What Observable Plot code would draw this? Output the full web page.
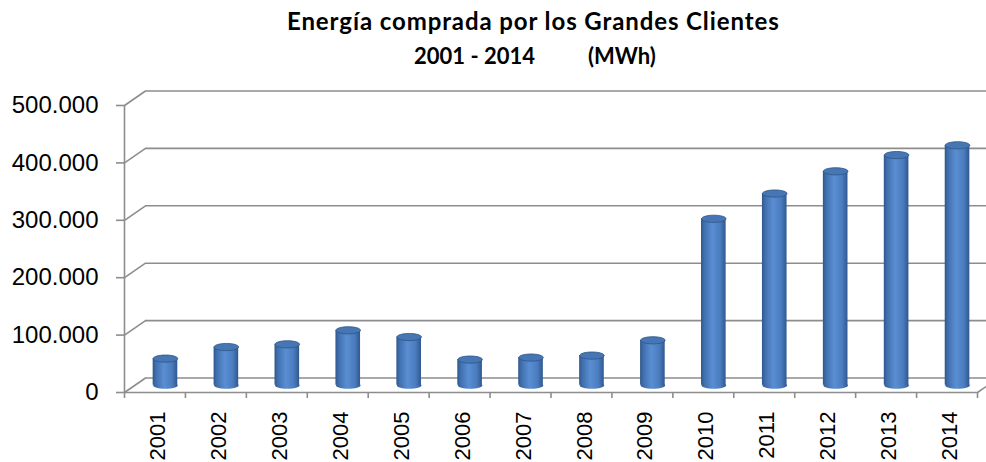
<!DOCTYPE html>
<html>
<head>
<meta charset="utf-8">
<script src="https://cdn.jsdelivr.net/npm/d3@7"></script>
<script src="https://cdn.jsdelivr.net/npm/@observablehq/plot@0.6"></script>
<style>
  html, body { margin: 0; padding: 0; background: #fff; }
  #wrap { position: relative; width: 986px; height: 462px; overflow: hidden; background: #fff; }
  .t { position: absolute; font-family: Lato, "Liberation Sans", sans-serif; font-weight: 700; color: #000; white-space: pre; }
  #title1 { top: 9px; left: 287px; font-size: 24px; line-height: 24px; letter-spacing: 0.9px; }
  #title2 { top: 45px; left: 414px; font-size: 22px; line-height: 22px; }
  #chart { position: absolute; left: 0; top: 75px; }
</style>
</head>
<body>
<div id="wrap">
  <div class="t" id="title1">Energía comprada por los Grandes Clientes</div>
  <div class="t" id="title2">2001 - 2014<span style="margin-left:53px">(MWh)</span></div>
  <div id="chart"></div>
</div>
<script>
// ---- data ----
const years = ["2001","2002","2003","2004","2005","2006","2007","2008","2009","2010","2011","2012","2013","2014"];
const values = [46400, 66600, 71300, 95700, 84000, 44700, 48200, 51700, 78300, 290000, 334000, 372700, 401000, 418000];
const yTicks = [0, 100000, 200000, 300000, 400000, 500000];

// ---- 3D look (pixel styling) ----
const DEPTH_DX = 21, DEPTH_DY = -14.5;          // back wall offset in px
const BAR_DX = DEPTH_DX / 2, BAR_DY = DEPTH_DY / 2;
const GRID = "#8d8d8d";

const rows = years.map((y, i) => ({year: y, i, value: values[i]}));
const fmt = d => d3.format(",")(d).replace(/,/g, ".");

const ellipse = {
  draw(ctx) {
    const rx = 12.3, ry = 3.6, k = 0.5523;
    ctx.moveTo(rx, 0);
    ctx.bezierCurveTo(rx, ry * k, rx * k, ry, 0, ry);
    ctx.bezierCurveTo(-rx * k, ry, -rx, ry * k, -rx, 0);
    ctx.bezierCurveTo(-rx, -ry * k, -rx * k, -ry, 0, -ry);
    ctx.bezierCurveTo(rx * k, -ry, rx, -ry * k, rx, 0);
    ctx.closePath();
  }
};

const W = 986, H = 387, ML = 124, MR = 9, MT = 30, MB = 70;
// depth expressed in data units, for the side-wall diagonals
const unitX = (W - ML - MR) / years.length;
const unitY = (H - MT - MB) / 500000;
const depthX = DEPTH_DX / unitX;
const depthY = -DEPTH_DY / unitY;

const plot = Plot.plot({
  width: W, height: H,
  marginLeft: ML, marginRight: MR, marginTop: MT, marginBottom: MB,
  style: {fontFamily: "'Liberation Sans', Arial, sans-serif", fontSize: "23px", color: "#000", background: "transparent", overflow: "visible"},
  x: {type: "linear", domain: [0, years.length], axis: null},
  y: {domain: [0, 500000], axis: null},
  marks: [
    // back wall gridlines
    Plot.ruleY(yTicks, {dx: DEPTH_DX, dy: DEPTH_DY, stroke: GRID, strokeWidth: 1.6}),
    // left side-wall diagonals
    Plot.link(yTicks, {x1: 0, x2: depthX, y1: d => d, y2: d => d + depthY, stroke: GRID, strokeWidth: 1.6}),
    // right floor diagonal
    Plot.link([0], {x1: years.length, x2: years.length + depthX, y1: 0, y2: depthY, stroke: GRID, strokeWidth: 1.6}),
    // front axes
    Plot.ruleY([0], {stroke: GRID, strokeWidth: 1.6}),
    Plot.ruleX([0], {y1: 0, y2: 500000, stroke: GRID, strokeWidth: 1.6}),
    Plot.axisY(yTicks, {anchor: "left", label: null, tickSize: 8, tickPadding: 18, stroke: GRID, strokeWidth: 1.6, fill: "#000", fontSize: 24, tickFormat: fmt}),
    Plot.axisX(d3.range(years.length + 1), {anchor: "bottom", label: null, tickSize: 6, stroke: GRID, strokeWidth: 1.6, tickFormat: () => ""}),
    Plot.axisX(rows.map(d => d.i + 0.5), {anchor: "bottom", label: null, tickSize: 0, tickPadding: 19, tickRotate: -90, dx: 3, fill: "#000", fontSize: 22, tickFormat: v => years[Math.floor(v)]}),
    // cylinders
    Plot.dot(rows, {x: d => d.i + 0.5, y: 0, dx: BAR_DX, dy: BAR_DY, symbol: ellipse, r: 5, fill: "url(#cyl)", stroke: "none"}),
    Plot.rectY(rows, {x1: d => d.i + 0.298, x2: d => d.i + 0.702, y1: 0, y2: "value", dx: BAR_DX, dy: BAR_DY, fill: "url(#cyl)"}),
    Plot.dot(rows, {x: d => d.i + 0.5, y: "value", dx: BAR_DX, dy: BAR_DY, symbol: ellipse, r: 5, fill: "#4676b3", stroke: "#2f5586", strokeWidth: 0.8})
  ]
});

const defs = document.createElementNS("http://www.w3.org/2000/svg", "defs");
defs.innerHTML = `<linearGradient id="cyl" x1="0" x2="1" y1="0" y2="0">
  <stop offset="0" stop-color="#2f5689"/>
  <stop offset="0.12" stop-color="#3f6ead"/>
  <stop offset="0.45" stop-color="#5a8ed2"/>
  <stop offset="0.78" stop-color="#4a7cbf"/>
  <stop offset="1" stop-color="#30588e"/>
</linearGradient>`;
plot.insertBefore(defs, plot.firstChild);
document.getElementById("chart").appendChild(plot);
</script>
</body>
</html>
